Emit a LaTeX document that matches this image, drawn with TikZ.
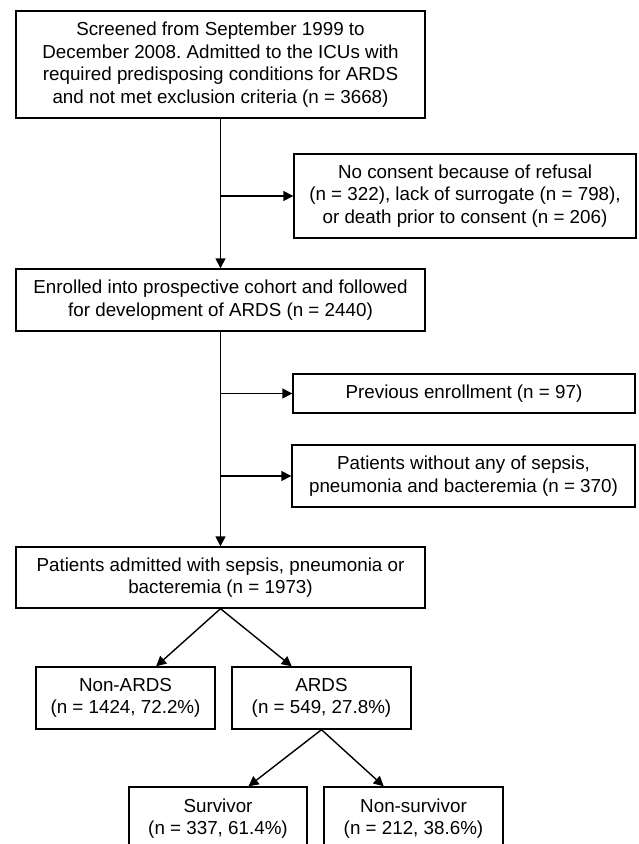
\documentclass[tikz,border=0pt]{standalone}
\usepackage{fontspec}
\setmainfont{Liberation Sans}
\usetikzlibrary{arrows.meta,calc}
\frenchspacing
\begin{document}
\begin{tikzpicture}[x=1pt,y=-1pt,
  box/.style={draw=black,line width=1.4pt,align=center,inner sep=0pt,
    font=\fontsize{18.8}{22.5}\selectfont},
  arr/.style={line width=1.4pt,-{Triangle[length=10pt,width=10pt]}},
  ln/.style={line width=1.4pt}]
\useasboundingbox (0,0) rectangle (638,844);
\clip (0,0) rectangle (638,844);
\fill[white] (0,0) rectangle (638,844);
\node[box,minimum width=409pt,minimum height=107pt] (b1) at (220.5,64.5)
  {Screened from September 1999 to\\December 2008. Admitted to the ICUs with\\required predisposing conditions for ARDS\\and not met exclusion criteria (n = 3668)};
\node[box,minimum width=342pt,minimum height=84pt] (b2) at (465,196)
  {No consent because of refusal\\(n = 322), lack of surrogate (n = 798),\\or death prior to consent (n = 206)};
\node[box,minimum width=409pt,minimum height=62pt] (b3) at (220.5,300)
  {Enrolled into prospective cohort and followed\\for development of ARDS (n = 2440)};
\node[box,minimum width=342pt,minimum height=39pt] (b4) at (464,393.5)
  {Previous enrollment (n = 97)};
\node[box,minimum width=343pt,minimum height=62pt] (b5) at (463.5,476)
  {Patients without any of sepsis,\\pneumonia and bacteremia (n = 370)};
\node[box,minimum width=409pt,minimum height=61pt] (b6) at (220.5,577.5)
  {Patients admitted with sepsis, pneumonia or\\bacteremia (n = 1973)};
\node[box,minimum width=179pt,minimum height=62pt] (na) at (125.5,698)
  {Non-ARDS\\(n = 1424, 72.2\%)};
\node[box,minimum width=179pt,minimum height=62pt] (ar) at (321.5,698)
  {ARDS\\(n = 549, 27.8\%)};
\node[box,minimum width=178pt,minimum height=63pt] (sv) at (218,818.5)
  {Survivor\\(n = 337, 61.4\%)};
\node[box,minimum width=179pt,minimum height=63pt] (ns) at (413.5,818.5)
  {Non-survivor\\(n = 212, 38.6\%)};
\coordinate (j1) at (b1.south |- b2.west);
\coordinate (j4) at (b3.south |- b4.west);
\coordinate (j5) at (b3.south |- b5.west);
\draw[arr] (b1.south) -- (b3.north);
\draw[arr] (j1) -- (b2.west);
\draw[arr] (b3.south) -- (b6.north);
\draw[arr] (j4) -- (b4.west);
\draw[arr] (j5) -- (b5.west);
\draw[arr] (b6.south) -- ($(na.north west)!0.67!(na.north east)$);
\draw[arr] (b6.south) -- ($(ar.north west)!0.335!(ar.north east)$);
\draw[arr] (ar.south) -- ($(sv.north west)!0.67!(sv.north east)$);
\draw[arr] (ar.south) -- ($(ns.north west)!0.335!(ns.north east)$);
\end{tikzpicture}
\end{document}
